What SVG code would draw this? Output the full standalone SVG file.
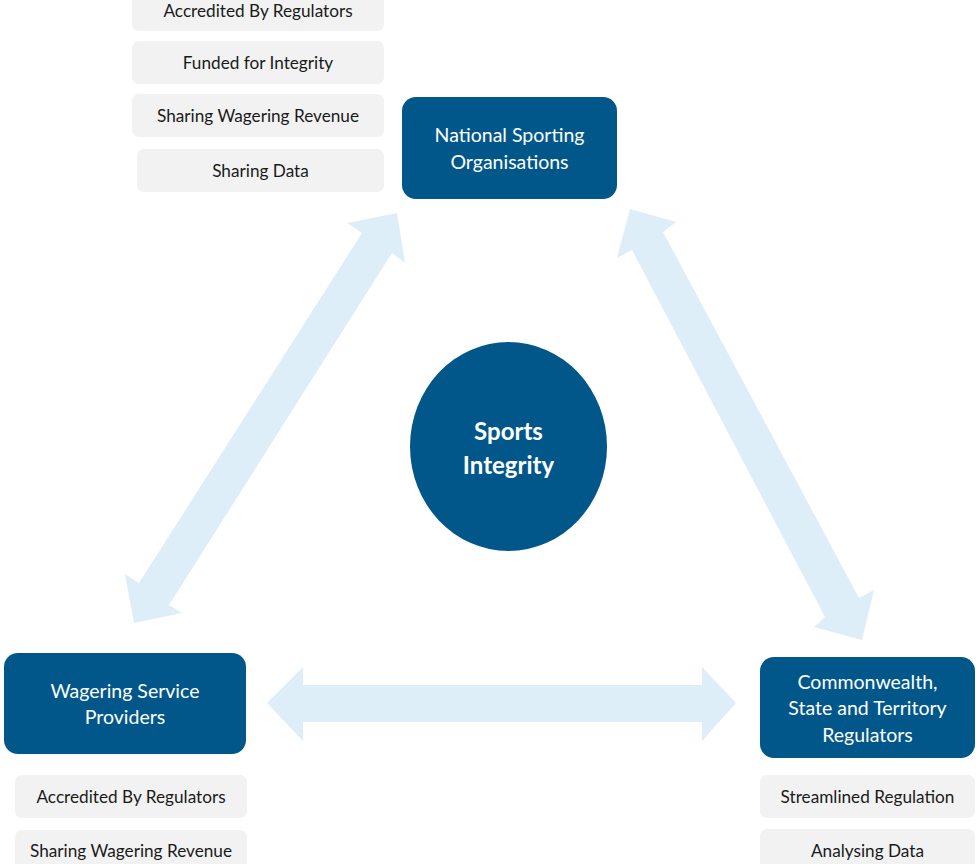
<svg xmlns="http://www.w3.org/2000/svg" width="976" height="864" viewBox="0 0 976 864">
  <style>
    .node rect { fill: #02578A; }
    .hub ellipse { fill: #02578A; }
    .tag rect { fill: #F2F2F2; }
    .arrow { fill: #DEEEF9; stroke: none; }
    text { font-family: "Lato", "Open Sans", "Liberation Sans", sans-serif; text-anchor: middle; dominant-baseline: central; }
    .node text { fill: #FFFFFF; font-size: 19.5px; }
    .hub text { fill: #FFFFFF; font-size: 24px; font-weight: bold; }
    .tag text { fill: #1A1A1A; font-size: 17.2px; }
  </style>

  <rect width="976" height="864" fill="#FFFFFF"/>

  <!-- double-headed block arrows between the three parties -->
  <g id="connectors">
    <polygon class="arrow" points="397,213 405,263 392,253 169,605 182,613 134,623 125,574 139,583 362,233 347,223"/>
    <polygon class="arrow" points="630,209 676,222 663,232 859,598 874,590 862,640 814,627 825,617 632,250 617,258"/>
    <polygon class="arrow" points="267,703 303,667 303,685 702,685 702,667 736,703 702,741 702,722 303,722 303,741"/>
  </g>

  <!-- central hub -->
  <g id="sports-integrity" class="hub">
    <ellipse cx="508.5" cy="446.5" rx="98.5" ry="104.5"/>
    <text x="508.5" y="430">Sports</text>
    <text x="508.5" y="464">Integrity</text>
  </g>

  <!-- National Sporting Organisations -->
  <g id="nso" class="node">
    <rect x="402" y="97" width="215" height="102" rx="14"/>
    <text x="509.5" y="134">National Sporting</text>
    <text x="509.5" y="161">Organisations</text>
  </g>
  <g id="nso-accredited" class="tag">
    <rect x="132" y="-12" width="252" height="43" rx="7"/>
    <text x="258" y="10">Accredited By Regulators</text>
  </g>
  <g id="nso-funded" class="tag">
    <rect x="132" y="41" width="252" height="43" rx="7"/>
    <text x="258" y="62.5">Funded for Integrity</text>
  </g>
  <g id="nso-revenue" class="tag">
    <rect x="132" y="94" width="252" height="43" rx="7"/>
    <text x="258" y="115.5">Sharing Wagering Revenue</text>
  </g>
  <g id="nso-data" class="tag">
    <rect x="137" y="149" width="247" height="43" rx="7"/>
    <text x="260.5" y="170">Sharing Data</text>
  </g>

  <!-- Wagering Service Providers -->
  <g id="wsp" class="node">
    <rect x="4" y="653" width="242" height="101" rx="14"/>
    <text x="125" y="690">Wagering Service</text>
    <text x="125" y="716">Providers</text>
  </g>
  <g id="wsp-accredited" class="tag">
    <rect x="15" y="775" width="232" height="43" rx="7"/>
    <text x="131" y="796">Accredited By Regulators</text>
  </g>
  <g id="wsp-revenue" class="tag">
    <rect x="15" y="830" width="232" height="43" rx="7"/>
    <text x="131" y="850">Sharing Wagering Revenue</text>
  </g>

  <!-- Commonwealth, State and Territory Regulators -->
  <g id="regulators" class="node">
    <rect x="760" y="657" width="215" height="101" rx="14"/>
    <text x="867.5" y="681">Commonwealth,</text>
    <text x="867.5" y="707">State and Territory</text>
    <text x="867.5" y="734">Regulators</text>
  </g>
  <g id="reg-streamlined" class="tag">
    <rect x="760" y="775" width="215" height="43" rx="7"/>
    <text x="867.5" y="796">Streamlined Regulation</text>
  </g>
  <g id="reg-data" class="tag">
    <rect x="760" y="829" width="215" height="43" rx="7"/>
    <text x="867.5" y="850">Analysing Data</text>
  </g>
</svg>
